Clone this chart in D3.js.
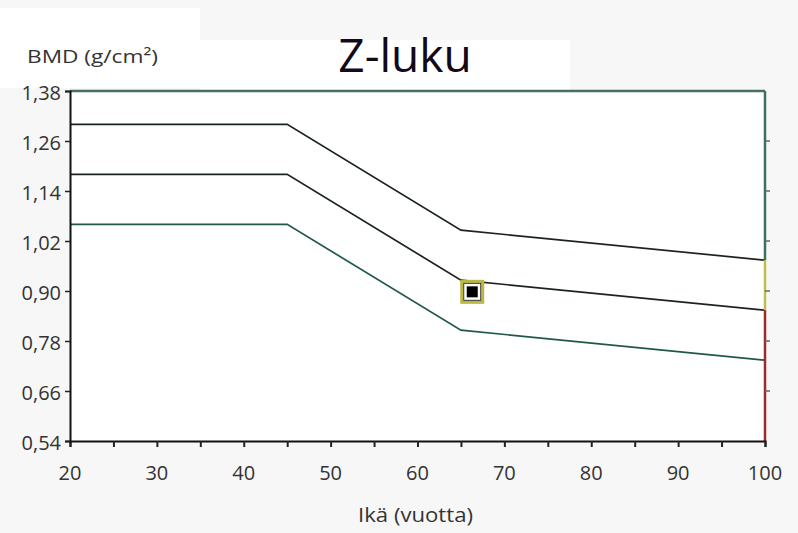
<!DOCTYPE html>
<html lang="fi">
    <head>
        <meta charset="utf-8">
        <title>Z-luku</title>
        <script type="text/javascript" src="https://cdnjs.cloudflare.com/ajax/libs/d3/7.8.5/d3.min.js"></script>
        <style type="text/css">
            body { margin: 0; background: #f7f7f7; }
            text { font-family: "Open Sans", "DejaVu Sans", sans-serif; }
        </style>
    </head>
    <body>
        <script type="text/javascript">
            // reference curves (age vs BMD)
            var ages = [20, 45, 65, 100];
            var upper = [1.30, 1.30, 1.046, 0.974];
            var mean = [1.18, 1.18, 0.926, 0.854];
            var lower = [1.06, 1.06, 0.806, 0.734];

            // the patient's measurement
            var patientAge = 66.3;
            var patientBmd = 0.898;

            var xTicks = [20, 30, 40, 50, 60, 70, 80, 90, 100];
            var xMinor = [25, 35, 45, 55, 65, 75, 85, 95];
            var yTicks = [0.54, 0.66, 0.78, 0.90, 1.02, 1.14, 1.26, 1.38];

            var w = 798;
            var h = 533;
            var pLeft = 70, pRight = 765, pTop = 91, pBottom = 441;

            var svg = d3.select("body")
                        .append("svg")
                        .attr("width", w)
                        .attr("height", h);

            var x = d3.scaleLinear().domain([20, 100]).range([pLeft, pRight]);
            var y = d3.scaleLinear().domain([0.54, 1.38]).range([pBottom, pTop]);

            var comma = function (d) { return d3.format(".2f")(d).replace(".", ","); };

            // white patches behind title area and plot
            svg.append("rect").attr("x", 0).attr("y", 8).attr("width", 200).attr("height", 80).attr("fill", "#fff");
            svg.append("rect").attr("x", 200).attr("y", 40).attr("width", 370).attr("height", 50).attr("fill", "#fff");
            svg.append("rect")
               .attr("x", pLeft).attr("y", pTop)
               .attr("width", pRight - pLeft).attr("height", pBottom - pTop)
               .attr("fill", "#fff");

            // curves
            var line = d3.line()
                         .x(function (d, i) { return x(ages[i]); })
                         .y(function (d) { return y(d); });

            var curves = [
                {v: upper, c: "#1a241d"},
                {v: mean, c: "#1a241d"},
                {v: lower, c: "#1f5a40"}
            ];

            svg.selectAll("path.curve")
               .data(curves)
               .enter()
               .append("path")
               .attr("class", "curve")
               .attr("d", function (d) { return line(d.v); })
               .attr("fill", "none")
               .attr("stroke", function (d) { return d.c; })
               .attr("stroke-width", 1.7);

            // top border
            svg.append("line")
               .attr("x1", pLeft).attr("x2", pRight)
               .attr("y1", pTop).attr("y2", pTop)
               .attr("stroke", "#46705f")
               .attr("stroke-width", 2.5);

            // right coloured bar: green / yellow / red
            var bands = [
                {from: 1.38, to: upper[3], c: "#3b6f5f"},
                {from: upper[3], to: mean[3], c: "#bdbd4c"},
                {from: mean[3], to: 0.54, c: "#9e2b2b"}
            ];
            svg.selectAll("line.band")
               .data(bands)
               .enter()
               .append("line")
               .attr("class", "band")
               .attr("x1", pRight).attr("x2", pRight)
               .attr("y1", function (d) { return y(d.from); })
               .attr("y2", function (d) { return y(d.to); })
               .attr("stroke", function (d) { return d.c; })
               .attr("stroke-width", 2.5);

            svg.selectAll("line.rtick")
               .data(yTicks.slice(1, -1))
               .enter()
               .append("line")
               .attr("class", "rtick")
               .attr("x1", pRight).attr("x2", pRight + 5)
               .attr("y1", function (d) { return y(d); })
               .attr("y2", function (d) { return y(d); })
               .attr("stroke", "#666")
               .attr("stroke-width", 1.5);

            // axes
            var xAxis = d3.axisBottom(x).tickValues(xTicks.concat(xMinor)).tickSize(6).tickFormat("");
            var gx = svg.append("g").attr("transform", "translate(0," + pBottom + ")").call(xAxis);
            gx.select(".domain").attr("stroke", "#111").attr("stroke-width", 2);
            gx.selectAll(".tick line").attr("stroke", "#222").attr("stroke-width", 2);

            var yAxis = d3.axisLeft(y).tickValues(yTicks).tickSize(5).tickFormat("");
            var gy = svg.append("g").attr("transform", "translate(" + pLeft + ",0)").call(yAxis);
            gy.select(".domain").attr("stroke", "#111").attr("stroke-width", 2);
            gy.selectAll(".tick line").attr("stroke", "#222").attr("stroke-width", 1.5);

            svg.selectAll("text.xlab")
               .data(xTicks)
               .enter()
               .append("text")
               .attr("class", "xlab")
               .text(function (d) { return d; })
               .attr("x", function (d) { return x(d); })
               .attr("y", 480)
               .attr("text-anchor", "middle")
               .attr("font-size", "20px")
               .attr("fill", "#333");

            svg.selectAll("text.ylab")
               .data(yTicks)
               .enter()
               .append("text")
               .attr("class", "ylab")
               .text(comma)
               .attr("x", 61)
               .attr("y", function (d) { return y(d) + 9; })
               .attr("text-anchor", "end")
               .attr("font-size", "20px")
               .attr("fill", "#333");

            // patient marker
            var px = x(patientAge), py = y(patientBmd);
            svg.append("rect")
               .attr("x", px - 10.5).attr("y", py - 10.5)
               .attr("width", 21).attr("height", 21)
               .attr("fill", "#fff")
               .attr("stroke", "#b9b941")
               .attr("stroke-width", 3);
            svg.append("rect")
               .attr("x", px - 8.5).attr("y", py - 8.5)
               .attr("width", 17).attr("height", 17)
               .attr("fill", "none")
               .attr("stroke", "#333")
               .attr("stroke-width", 1);
            svg.append("rect")
               .attr("x", px - 5.5).attr("y", py - 5.5)
               .attr("width", 11).attr("height", 11)
               .attr("fill", "#000");

            // titles
            svg.append("text")
               .text("Z-luku")
               .attr("x", 405)
               .attr("y", 72)
               .attr("text-anchor", "middle")
               .attr("font-size", "46px")
               .attr("fill", "#110a18");

            svg.append("text")
               .text("BMD (g/cm²)")
               .attr("x", 27)
               .attr("y", 63)
               .attr("font-size", "19px")
               .attr("textLength", 131)
               .attr("lengthAdjust", "spacingAndGlyphs")
               .attr("fill", "#333");

            svg.append("text")
               .text("Ikä (vuotta)")
               .attr("x", 358)
               .attr("y", 522)
               .attr("font-size", "20px")
               .attr("textLength", 115)
               .attr("lengthAdjust", "spacingAndGlyphs")
               .attr("fill", "#333");
        </script>
    </body>
</html>
